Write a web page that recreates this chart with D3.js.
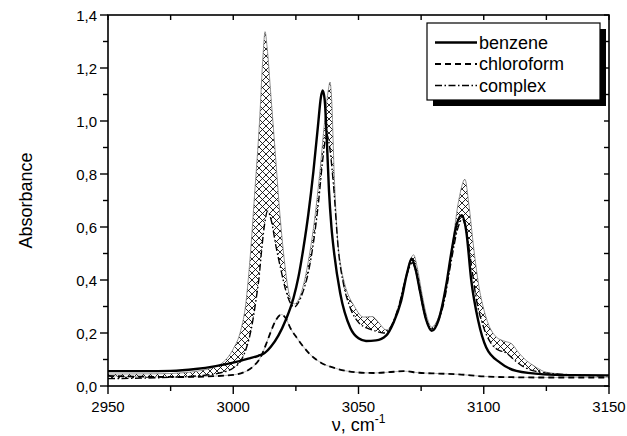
<!DOCTYPE html>
<html>
<head>
<meta charset="utf-8">
<script src="https://cdn.jsdelivr.net/npm/d3@7"></script>
<style>
  html, body { margin: 0; padding: 0; background: #fff; }
  svg { display: block; font-family: Arial, "Liberation Sans", Helvetica, sans-serif; }
</style>
</head>
<body>
<div id="chart"></div>
<script>
// wavenumber (cm-1), absorbance
const benzene = [
  [2950,0.056],[2965,0.056],[2975,0.057],[2985,0.064],[2993,0.075],[3000,0.088],[3006,0.103],
  [3010,0.114],[3012.5,0.124],[3015,0.148],[3018,0.19],[3021,0.25],[3024,0.33],[3026,0.41],
  [3028,0.52],[3030,0.65],[3032,0.81],[3033.8,0.98],[3035,1.09],[3035.7,1.115],[3036.5,1.08],
  [3037.3,0.94],[3038.2,0.74],[3039.2,0.6],[3040.3,0.5],[3042.7,0.35],[3046.7,0.22],[3050,0.18],
  [3053,0.17],[3057,0.172],[3061,0.19],[3064,0.24],[3067,0.32],[3069.5,0.43],[3071.2,0.48],
  [3072.8,0.44],[3074.5,0.36],[3077,0.25],[3079.2,0.208],[3082,0.25],[3085,0.38],[3087,0.5],
  [3089.2,0.61],[3091.2,0.645],[3093,0.586],[3095,0.40],[3097.8,0.246],[3101,0.145],
  [3106.5,0.088],[3113,0.057],[3124,0.044],[3135,0.041],[3150,0.04]
];

const chloroform = [
  [2950,0.038],[2965,0.035],[2980,0.034],[2992,0.037],[3000,0.042],[3005,0.055],[3008,0.074],
  [3011,0.11],[3013,0.155],[3015,0.205],[3017,0.248],[3019.2,0.27],[3021,0.255],[3023,0.215],
  [3025.3,0.183],[3028,0.148],[3030.6,0.12],[3035,0.088],[3040,0.069],[3045,0.057],[3050,0.051],
  [3056,0.049],[3062,0.052],[3068,0.056],[3074,0.05],[3082,0.047],[3090,0.044],[3100,0.036],
  [3112,0.033],[3125,0.032],[3150,0.032]
];

const complex = [
  [2950,0.028],[2965,0.03],[2978,0.034],[2988,0.04],[2995,0.05],[3000,0.068],[3003,0.095],
  [3005.3,0.145],[3007.3,0.22],[3009,0.32],[3010.3,0.41],[3011.3,0.51],[3012.5,0.61],
  [3013.7,0.66],[3015.3,0.62],[3017,0.53],[3019,0.44],[3021,0.36],[3023,0.31],[3024.5,0.298],
  [3026,0.315],[3028,0.36],[3030,0.43],[3032,0.54],[3034,0.69],[3035.8,0.86],[3037.3,0.95],
  [3038.5,0.9],[3040,0.76],[3042,0.51],[3044,0.385],[3046.5,0.3],[3050,0.24],[3053,0.22],
  [3056,0.21],[3060,0.2],[3063,0.225],[3066,0.3],[3069,0.41],[3071.5,0.465],[3073,0.43],
  [3075,0.33],[3077,0.25],[3079,0.215],[3081,0.232],[3084,0.31],[3087,0.47],[3089.5,0.59],
  [3091.5,0.63],[3093,0.585],[3095,0.46],[3097,0.33],[3100,0.22],[3103,0.16],[3106,0.135],
  [3109,0.125],[3112,0.1],[3116,0.072],[3120,0.057],[3130,0.045],[3150,0.038]
];

// upper edge of the hatched band (measured mixture)
const envelope = [
  [2950,0.045],[2970,0.046],[2980,0.05],[2987,0.058],[2992,0.07],[2996,0.09],[3000,0.14],
  [3003,0.21],[3005,0.31],[3006.7,0.48],[3008.5,0.72],[3010.5,1.0],[3011.9,1.25],[3012.7,1.337],
  [3013.5,1.28],[3015,1.1],[3016.7,0.89],[3018.7,0.64],[3020.7,0.45],[3022.5,0.34],[3024.5,0.31],
  [3026.5,0.335],[3028.5,0.4],[3030.5,0.5],[3032.5,0.63],[3034.5,0.8],[3036.5,1.0],[3038,1.12],
  [3038.6,1.147],[3039.3,1.08],[3040.3,0.8],[3041.7,0.55],[3043,0.45],[3044.5,0.385],[3048.4,0.3],
  [3052,0.26],[3055.5,0.262],[3058,0.24],[3061,0.212],[3063,0.225],[3066,0.3],[3069,0.42],
  [3072,0.495],[3073.5,0.445],[3075.5,0.34],[3077.5,0.255],[3079.2,0.222],[3081,0.24],[3084,0.33],
  [3087,0.5],[3090,0.7],[3092.5,0.78],[3094,0.69],[3096,0.52],[3098,0.38],[3100,0.29],
  [3102,0.23],[3105,0.185],[3108,0.17],[3111,0.16],[3114,0.125],[3117,0.096],[3120,0.076],
  [3125,0.052],[3135,0.043],[3150,0.04]
];

const xTicks = [2950, 3000, 3050, 3100, 3150];
const yTicks = [0, 0.2, 0.4, 0.6, 0.8, 1.0, 1.2, 1.4];
const legendItems = [
  { name: "benzene", dash: null, width: 2.4 },
  { name: "chloroform", dash: "6,4", width: 1.8 },
  { name: "complex", dash: "7,2.5,1.5,2.5", width: 1.4 }
];

const width = 627, height = 436;
const margin = { left: 108, right: 18, top: 15, bottom: 50 };

const svg = d3.select("#chart").append("svg")
  .attr("width", width)
  .attr("height", height);

const x = d3.scaleLinear().domain([2950, 3150]).range([margin.left, width - margin.right]);
const y = d3.scaleLinear().domain([0, 1.4]).range([height - margin.bottom, margin.top]);

const defs = svg.append("defs");
const pat = defs.append("pattern")
  .attr("id", "xhatch")
  .attr("patternUnits", "userSpaceOnUse")
  .attr("width", 7).attr("height", 7);
pat.append("path").attr("d", "M0,0L7,7M-1,6L1,8M6,-1L8,1").attr("stroke", "#000").attr("stroke-width", 0.85);
pat.append("path").attr("d", "M7,0L0,7M-1,1L1,-1M6,8L8,6").attr("stroke", "#000").attr("stroke-width", 0.85);

defs.append("clipPath").attr("id", "plotclip")
  .append("rect")
  .attr("x", x(2950)).attr("y", y(1.4))
  .attr("width", x(3150) - x(2950)).attr("height", y(0) - y(1.4));

const plot = svg.append("g").attr("clip-path", "url(#plotclip)");

const line = d3.line().x(d => x(d[0])).y(d => y(d[1])).curve(d3.curveMonotoneX);
const area = d3.area().x(d => x(d[0])).y0(y(0)).y1(d => y(d[1])).curve(d3.curveMonotoneX);

// hatch under the envelope, then blank out everything under the complex curve
plot.append("path").attr("d", area(envelope)).attr("fill", "url(#xhatch)");
plot.append("path").attr("d", area(complex)).attr("fill", "#fff");
plot.append("path").attr("d", line(envelope))
  .attr("fill", "none").attr("stroke", "#777").attr("stroke-width", 0.8);

plot.append("path").attr("d", line(chloroform))
  .attr("fill", "none").attr("stroke", "#999").attr("stroke-width", 0.7);

legendItems.forEach((it, i) => {
  const data = [benzene, chloroform, complex][i];
  plot.append("path").attr("d", line(data))
    .attr("fill", "none")
    .attr("stroke", "#000")
    .attr("stroke-width", it.width)
    .attr("stroke-dasharray", it.dash)
    .attr("stroke-linejoin", "round");
});

// frame and ticks
const fmt = d => d3.format(".1f")(d).replace(".", ",");

const axes = svg.append("g").attr("stroke", "#000").attr("fill", "none");
axes.append("rect")
  .attr("x", x(2950)).attr("y", y(1.4))
  .attr("width", x(3150) - x(2950)).attr("height", y(0) - y(1.4))
  .attr("stroke-width", 1.6);

d3.range(2950, 3151, 25).forEach(v => {
  const major = v % 50 === 0;
  axes.append("line").attr("x1", x(v)).attr("x2", x(v))
    .attr("y1", y(0)).attr("y2", y(0) + (major ? 8 : 5)).attr("stroke-width", 1.4);
  axes.append("line").attr("x1", x(v)).attr("x2", x(v))
    .attr("y1", y(1.4)).attr("y2", y(1.4) + 5).attr("stroke-width", 1.4);
});
d3.range(0, 15).forEach(k => {
  const v = k / 10;
  const major = k % 2 === 0;
  axes.append("line").attr("y1", y(v)).attr("y2", y(v))
    .attr("x1", x(2950)).attr("x2", x(2950) - (major ? 8 : 5)).attr("stroke-width", 1.4);
  axes.append("line").attr("y1", y(v)).attr("y2", y(v))
    .attr("x1", x(3150)).attr("x2", x(3150) - 5).attr("stroke-width", 1.4);
});

svg.append("g").selectAll("text")
  .data(xTicks).join("text")
  .attr("x", d => x(d)).attr("y", y(0) + 26)
  .attr("text-anchor", "middle")
  .attr("font-size", 15)
  .text(d => d);

svg.append("g").selectAll("text")
  .data(yTicks).join("text")
  .attr("x", x(2950) - 11).attr("y", d => y(d) + 5.5)
  .attr("text-anchor", "end")
  .attr("font-size", 15)
  .text(fmt);

svg.append("text")
  .attr("transform", `translate(26,${(y(0) + y(1.4)) / 2}) rotate(-90)`)
  .attr("text-anchor", "middle")
  .attr("dy", "0.35em")
  .attr("font-size", 18)
  .text("Absorbance");

const xl = svg.append("text")
  .attr("x", (x(2950) + x(3150)) / 2).attr("y", 431)
  .attr("text-anchor", "middle")
  .attr("font-size", 18);
xl.append("tspan").text("ν, cm");
xl.append("tspan").attr("font-size", 12).attr("dy", -8).text("-1");

// legend
const lg = svg.append("g");
lg.append("rect").attr("x", 433).attr("y", 29).attr("width", 173).attr("height", 77).attr("fill", "#000");
lg.append("rect").attr("x", 427).attr("y", 23).attr("width", 173).attr("height", 77)
  .attr("fill", "#fff").attr("stroke", "#000").attr("stroke-width", 1.2);
legendItems.forEach((it, i) => {
  const ly = 42.5 + i * 21.5;
  lg.append("line").attr("x1", 435).attr("x2", 477).attr("y1", ly).attr("y2", ly)
    .attr("stroke", "#000").attr("stroke-width", it.width).attr("stroke-dasharray", it.dash);
  lg.append("text").attr("x", 479).attr("y", ly + 6).attr("font-size", 18).text(it.name);
});
</script>
</body>
</html>
